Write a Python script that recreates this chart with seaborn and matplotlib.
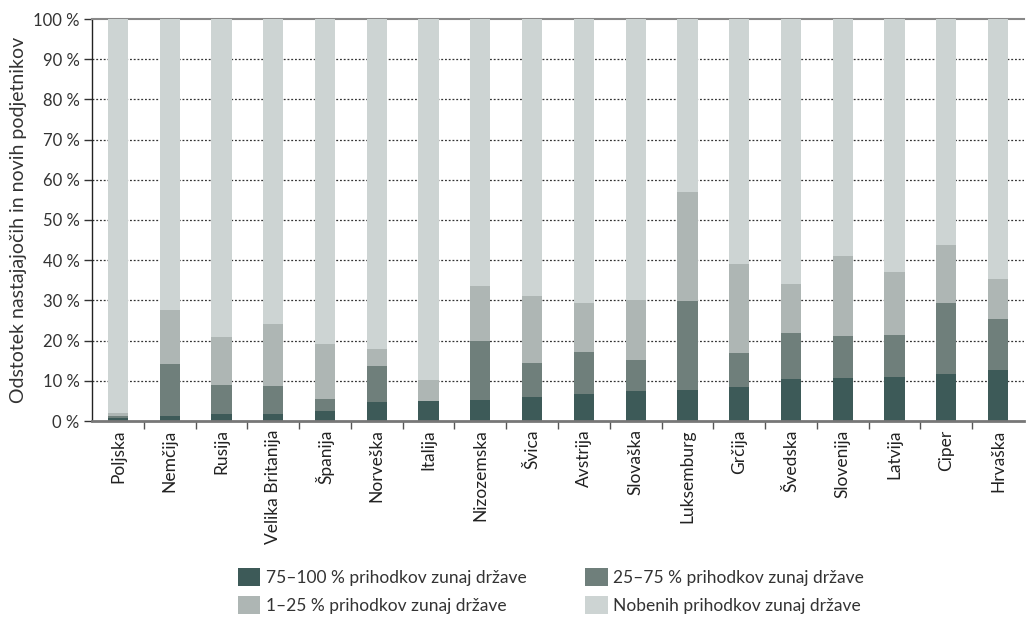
import numpy as np
import pandas as pd
import matplotlib
matplotlib.use("Agg")
import matplotlib.pyplot as plt
import seaborn as sns
from matplotlib.patches import Patch
from matplotlib.ticker import FixedLocator

countries = ["Poljska", "Nemčija", "Rusija", "Velika Britanija", "Španija", "Norveška",
             "Italija", "Nizozemska", "Švica", "Avstrija", "Slovaška", "Luksemburg",
             "Grčija", "Švedska", "Slovenija", "Latvija", "Ciper", "Hrvaška"]
s_75_100 = [0.7, 1.3, 1.8, 1.8, 2.5, 4.8, 5.0, 5.3, 6.0, 6.8, 7.5, 7.8, 8.5, 10.5, 10.8, 11.0, 11.8, 12.8]
s_25_75 = [0.6, 12.9, 7.2, 7.0, 3.0, 8.9, 0.0, 14.7, 8.5, 10.4, 7.7, 22.1, 8.5, 11.5, 10.4, 10.5, 17.6, 12.6]
s_1_25 = [0.7, 13.3, 12.0, 15.4, 13.7, 4.2, 5.2, 13.6, 16.7, 12.2, 15.0, 27.1, 22.0, 12.1, 19.8, 15.6, 14.4, 10.0]
labels = ["75–100 % prihodkov zunaj države", "25–75 % prihodkov zunaj države",
          "1–25 % prihodkov zunaj države", "Nobenih prihodkov zunaj države"]
colors = ["#3d5a58", "#6f7f7b", "#aeb6b4", "#cdd4d3"]
yticks = [0, 10, 20, 30, 40, 50, 60, 70, 80, 90, 100]

sns.set_theme(style="white")
plt.rcParams['font.family'] = ['Lato', 'DejaVu Sans']

c1 = np.array(s_75_100)
c2 = c1 + np.array(s_25_75)
c3 = c2 + np.array(s_1_25)
c4 = np.full(len(countries), 100.0)

fig = plt.figure(figsize=(10.26, 6.19), dpi=100)
ax = fig.add_axes([92/1026, 1 - 421/619, (1024-92)/1026, (421-19)/619])

for vals, col in zip([c4, c3, c2, c1], colors[::-1]):
    df = pd.DataFrame({"country": countries, "value": vals})
    sns.barplot(data=df, x="country", y="value", color=col, width=0.39,
                saturation=1, ax=ax, zorder=3, linewidth=0)

ax.set_ylim(0, 100)
ax.set_xlim(-0.5, len(countries) - 0.5)
ax.set_yticks(yticks)
ax.set_yticklabels([f"{t} %" for t in yticks], fontsize=12, color="#333333")
ax.set_xticks(range(len(countries)))
ax.set_xticklabels(countries, rotation=90, fontsize=12.5, color="#222222")
ax.tick_params(axis="x", length=0, pad=6)
ax.xaxis.set_minor_locator(FixedLocator(np.arange(0.5, len(countries) - 0.5, 1)))
ax.tick_params(axis="x", which="minor", length=6, width=1, color="#555555", direction="out", bottom=True)
ax.tick_params(axis="y", length=6, width=1, color="#333333", direction="out", left=True, pad=3)
ax.set_xlabel("")
ax.set_ylabel("Odstotek nastajajočih in novih podjetnikov", fontsize=14, color="#333333", labelpad=4)

for t in yticks[1:-1]:
    ax.axhline(t, color="#333333", linestyle=(0, (1.5, 1.5)), linewidth=0.9, zorder=2)

ax.spines["right"].set_visible(False)
ax.spines["left"].set_color("#222222")
ax.spines["left"].set_linewidth(1)
ax.spines["bottom"].set_color("#777777")
ax.spines["bottom"].set_linewidth(2)
ax.spines["bottom"].set_zorder(4)
ax.spines["top"].set_color("#888888")
ax.spines["top"].set_linewidth(1.5)

order = [0, 2, 1, 3]
handles = [Patch(facecolor=colors[i], edgecolor="none") for i in order]
leg = fig.legend(handles, [labels[i] for i in order], loc="center",
                 bbox_to_anchor=(551/1026, 1 - 591/619), ncol=2,
                 frameon=False, fontsize=12.5, handlelength=1.3, handleheight=1.2,
                 handletextpad=0.3, columnspacing=3.4, labelspacing=0.55)
for t in leg.get_texts():
    t.set_color("#333333")

fig.savefig("out.png", dpi=100)
